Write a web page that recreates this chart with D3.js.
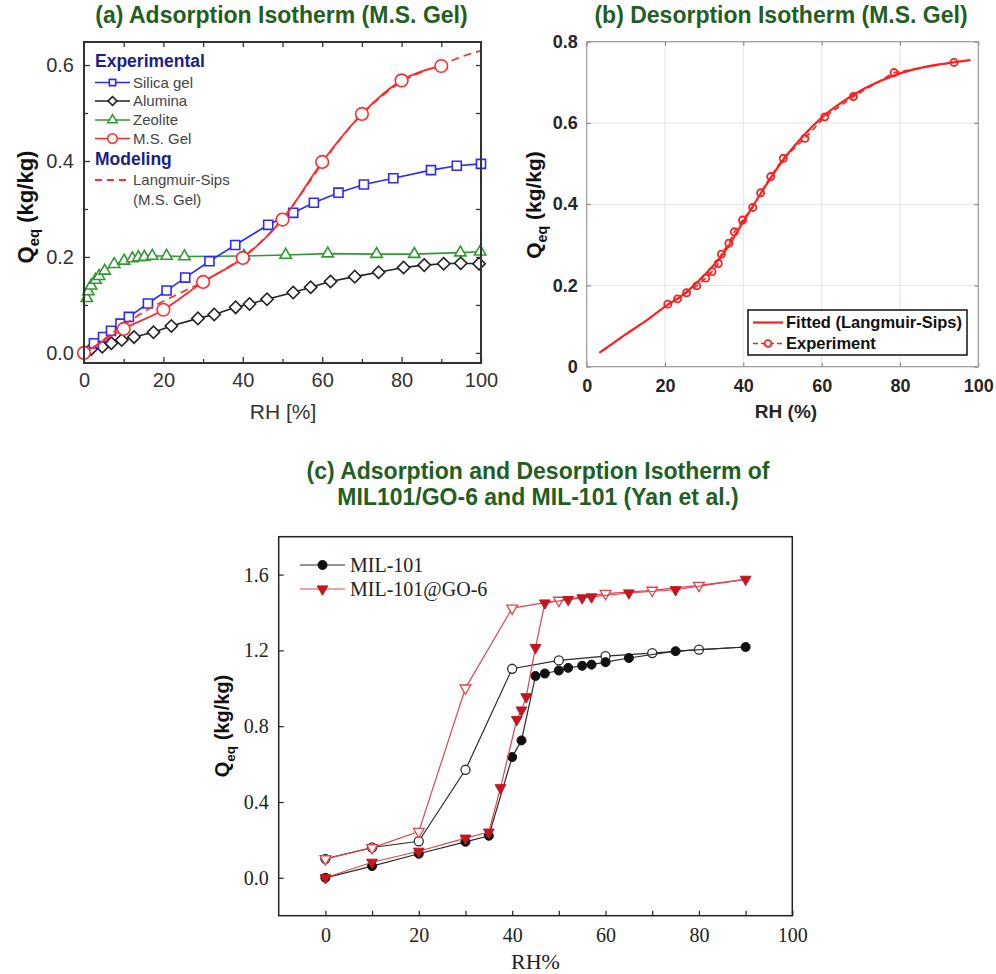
<!DOCTYPE html>
<html>
<head>
<meta charset="utf-8">
<script src="https://cdn.jsdelivr.net/npm/d3@7"></script>
<style>
  body { margin: 0; background: #fff; }
  svg { display: block; }
</style>
</head>
<body>
<svg id="fig" width="996" height="974"></svg>
<script>
// ---------- (a) adsorption isotherms ----------
const silicaRH = [2.5, 4.8, 6.8, 9.2, 11.3, 16.1, 20.8, 25.5, 31.6, 38.1, 46.4, 52.7, 57.9, 64.1, 70.5, 77.9, 87.4, 93.9, 100];
const silicaQ  = [0.020, 0.033, 0.046, 0.061, 0.075, 0.103, 0.130, 0.157, 0.191, 0.225, 0.267, 0.292, 0.313, 0.334, 0.351, 0.364, 0.381, 0.390, 0.394];

const aluminaRH = [1.8, 4.6, 6.9, 9.5, 12.6, 17.5, 22.0, 28.7, 32.8, 38.2, 41.7, 46.1, 52.7, 57.1, 62.1, 68.2, 74.2, 80.5, 85.7, 90.6, 94.9, 99.5];
const aluminaQ  = [0.008, 0.013, 0.020, 0.027, 0.033, 0.043, 0.056, 0.072, 0.080, 0.095, 0.102, 0.112, 0.126, 0.137, 0.149, 0.159, 0.168, 0.178, 0.183, 0.186, 0.187, 0.186];

const zeoliteRH = [0.7, 1.1, 1.8, 2.9, 3.8, 5.2, 7.6, 10.1, 12.2, 13.7, 15.2, 17.2, 20.8, 25.3, 40.3, 50.8, 61.4, 73.7, 83.2, 94.8, 99.8];
const zeoliteQ  = [0.114, 0.128, 0.140, 0.152, 0.160, 0.171, 0.185, 0.192, 0.197, 0.199, 0.200, 0.202, 0.202, 0.201, 0.202, 0.204, 0.207, 0.206, 0.206, 0.209, 0.211];

const msGelRH = [0, 10, 20, 30, 40, 50, 60, 70, 80, 90];
const msGelQ  = [0.000, 0.050, 0.090, 0.148, 0.198, 0.278, 0.398, 0.498, 0.568, 0.598];

const sipsRH = [0, 5, 10, 15, 20, 25, 30, 35, 40, 45, 50, 55, 60, 65, 70, 75, 80, 85, 90, 95, 100];
const sipsQ  = [-0.010, 0.028, 0.058, 0.085, 0.108, 0.128, 0.148, 0.172, 0.200, 0.235, 0.280, 0.335, 0.395, 0.450, 0.497, 0.535, 0.565, 0.585, 0.600, 0.617, 0.630];

const ticksA_RH = [0, 20, 40, 60, 80, 100];
const ticksA_Q  = [0.0, 0.2, 0.4, 0.6];

// ---------- (b) desorption isotherm ----------
const fitRH = [3.2, 5, 10, 15, 20, 25, 30, 35, 40, 45, 50, 55, 60, 65, 70, 75, 80, 85, 90, 95, 98];
const fitQ  = [0.034, 0.046, 0.080, 0.112, 0.148, 0.180, 0.225, 0.280, 0.357, 0.435, 0.507, 0.565, 0.613, 0.650, 0.680, 0.703, 0.722, 0.735, 0.744, 0.751, 0.755];

const expRH = [20.7, 23.2, 25.5, 28.1, 30.4, 32.0, 33.6, 34.4, 36.3, 37.7, 39.8, 42.4, 44.4, 47.0, 50.2, 55.7, 60.8, 68.1, 78.5, 93.8];
const expQ  = [0.154, 0.167, 0.182, 0.199, 0.218, 0.234, 0.254, 0.277, 0.304, 0.332, 0.361, 0.392, 0.428, 0.468, 0.513, 0.562, 0.615, 0.665, 0.724, 0.749];

const ticksB_RH = [0, 20, 40, 60, 80, 100];
const ticksB_Q  = [0, 0.2, 0.4, 0.6, 0.8];

// ---------- (c) MIL-101 and MIL-101@GO-6 ----------
const milAdsRH = [0, 10, 20, 30, 35, 40, 42, 45, 47, 50, 52, 55, 57, 60, 65, 75, 90];
const milAdsQ  = [0.000, 0.062, 0.127, 0.190, 0.222, 0.637, 0.725, 1.065, 1.078, 1.094, 1.108, 1.119, 1.125, 1.138, 1.160, 1.196, 1.218];
const milDesRH = [90, 80, 70, 60, 50, 40, 30, 20, 10, 0];
const milDesQ  = [1.218, 1.204, 1.186, 1.170, 1.147, 1.103, 0.570, 0.193, 0.160, 0.100];

const goAdsRH = [0, 10, 20, 30, 35, 37.5, 41, 42, 43, 45, 47, 52, 55, 57, 65, 75, 90];
const goAdsQ  = [0.000, 0.082, 0.140, 0.209, 0.241, 0.475, 0.835, 0.885, 0.955, 1.215, 1.450, 1.468, 1.477, 1.482, 1.503, 1.520, 1.575];
const goDesRH = [90, 80, 70, 60, 50, 40, 30, 20, 10, 0];
const goDesQ  = [1.575, 1.543, 1.517, 1.500, 1.464, 1.423, 1.001, 0.244, 0.158, 0.100];

const ticksC_RH = [0, 20, 40, 60, 80, 100];
const ticksC_Q  = [0.0, 0.4, 0.8, 1.2, 1.6];

// ---------- shared helpers ----------
const SANS = "'Liberation Sans', Arial, Helvetica, sans-serif";
const SERIF = "'Liberation Serif', 'Times New Roman', serif";
const TITLE_GREEN = "#1f5f22";
const svg = d3.select("#fig");
const zip = (xs, ys) => xs.map((x, i) => ({ x, y: ys[i] }));

function qLabel(x, y, size, weight, family) {
  const t = svg.append("text")
    .attr("transform", `translate(${x},${y}) rotate(-90)`)
    .attr("text-anchor", "middle")
    .attr("font-family", family).attr("font-size", size)
    .attr("font-weight", weight).attr("fill", "#111");
  t.append("tspan").text("Q");
  t.append("tspan").attr("font-size", size * 0.68).attr("dy", size * 0.28).text("eq");
  t.append("tspan").attr("dy", -size * 0.28).text(" (kg/kg)");
}

function styleAxis(g, opts) {
  g.select(".domain").remove();
  g.selectAll(".tick line").attr("stroke", opts.tickColor).attr("stroke-width", opts.tickWidth || 1.2);
  g.selectAll(".tick text")
    .attr("font-family", opts.family).attr("font-size", opts.size)
    .attr("font-weight", opts.weight || "normal").attr("fill", opts.color || "#222");
}

function marker(sel, shape, size, stroke, fill, sw) {
  const types = { square: d3.symbolSquare, circle: d3.symbolCircle, diamond: d3.symbolSquare, triangle: d3.symbolTriangle, down: d3.symbolTriangle };
  const rot = shape === "diamond" ? 45 : shape === "down" ? 180 : 0;
  sel.append("path")
    .attr("d", d3.symbol(types[shape], size)())
    .attr("transform", d => `translate(${d.tx},${d.ty}) rotate(${rot})`)
    .attr("fill", fill).attr("stroke", stroke).attr("stroke-width", sw);
}

function series(x, y, pts, o) {
  const g = svg.append("g");
  const line = d3.line().x(d => x(d.x)).y(d => y(d.y)).curve(o.curve || d3.curveLinear);
  if (o.lineWidth) {
    g.append("path").attr("d", line(pts)).attr("fill", "none")
      .attr("stroke", o.lineColor || o.color).attr("stroke-width", o.lineWidth)
      .attr("stroke-dasharray", o.dash || null);
  }
  if (o.shape) {
    const data = (o.skipFirst ? pts.slice(1) : pts).map(d => ({ tx: x(d.x), ty: y(d.y) }));
    marker(g.selectAll(null).data(data).enter(), o.shape, o.size, o.color, o.fill, o.sw || 1.6);
  }
}

function legendRow(x0, x1, yy, o, label, tx, font) {
  svg.append("line").attr("x1", x0).attr("x2", x1).attr("y1", yy).attr("y2", yy)
    .attr("stroke", o.lineColor || o.color).attr("stroke-width", o.lineWidth || 1.6)
    .attr("stroke-dasharray", o.dash || null);
  if (o.shape) {
    marker(svg.selectAll(null).data([{ tx: (x0 + x1) / 2, ty: yy }]).enter(), o.shape, o.size, o.color, o.fill, o.sw || 1.6);
  }
  svg.append("text").attr("x", tx).attr("y", yy + font.size * 0.36)
    .attr("font-family", font.family).attr("font-size", font.size)
    .attr("font-weight", font.weight || "normal").attr("fill", font.color || "#222")
    .text(label);
}

function title(lines, cx, y0, dy) {
  lines.forEach((s, i) => {
    svg.append("text").attr("x", cx).attr("y", y0 + i * dy).attr("text-anchor", "middle")
      .attr("font-family", SANS).attr("font-size", 23).attr("font-weight", "bold")
      .attr("fill", TITLE_GREEN).text(s);
  });
}

// ================= Panel (a) =================
{
  const L = 84, R = 481, T = 42, B = 363;
  const x = d3.scaleLinear().domain([0, 100]).range([L, R]);
  const y = d3.scaleLinear().domain([-0.021, 0.648]).range([B, T]);
  const ax = { tickColor: "#333", family: SANS, size: 20, color: "#333", tickWidth: 1.3 };
  const minorX = d3.range(10, 100, 20), minorY = [0.1, 0.3, 0.5];

  svg.append("g").attr("transform", `translate(0,${B})`)
    .call(d3.axisBottom(x).tickValues(ticksA_RH).tickSize(-6).tickPadding(10).tickFormat(d3.format("d")))
    .call(g => styleAxis(g, ax));
  svg.append("g").attr("transform", `translate(0,${B})`)
    .call(d3.axisBottom(x).tickValues(minorX).tickSize(-4).tickFormat(""))
    .call(g => styleAxis(g, ax));
  svg.append("g").attr("transform", `translate(0,${T})`)
    .call(d3.axisTop(x).tickValues(d3.range(10, 100, 10)).tickSize(-5).tickFormat(""))
    .call(g => styleAxis(g, ax));
  svg.append("g").attr("transform", `translate(${L},0)`)
    .call(d3.axisLeft(y).tickValues(ticksA_Q).tickSize(-6).tickPadding(10).tickFormat(d3.format(".1f")))
    .call(g => styleAxis(g, ax));
  svg.append("g").attr("transform", `translate(${L},0)`)
    .call(d3.axisLeft(y).tickValues(minorY).tickSize(-4).tickFormat(""))
    .call(g => styleAxis(g, ax));
  svg.append("g").attr("transform", `translate(${R},0)`)
    .call(d3.axisRight(y).tickValues([0, 0.1, 0.2, 0.3, 0.4, 0.5, 0.6]).tickSize(-5).tickFormat(""))
    .call(g => styleAxis(g, ax));

  const blue = "#2a2aff", black = "#222", green = "#2f9a2f", red = "#ff2b2b";
  series(x, y, zip(zeoliteRH, zeoliteQ), { color: green, lineWidth: 1.6, shape: "triangle", size: 56, fill: "#fff" });
  series(x, y, zip(aluminaRH, aluminaQ), { color: black, lineWidth: 1.6, shape: "diamond", size: 76, fill: "#fff" });
  series(x, y, zip(silicaRH, silicaQ), { color: blue, lineWidth: 1.6, shape: "square", size: 82, fill: "#fff" });
  series(x, y, zip(sipsRH, sipsQ), { color: red, lineWidth: 1.6, dash: "8,5", curve: d3.curveMonotoneX });
  series(x, y, zip(msGelRH, msGelQ), { color: red, lineWidth: 1.8, shape: "circle", size: 125, fill: "#fff", curve: d3.curveMonotoneX });

  svg.append("rect").attr("x", L).attr("y", T).attr("width", R - L).attr("height", B - T)
    .attr("fill", "none").attr("stroke", "#333").attr("stroke-width", 2);

  // legend
  const navy = "#1d1d8c";
  const lf = { family: SANS, size: 15, color: "#444" };
  svg.append("text").attr("x", 95).attr("y", 67).attr("font-family", SANS).attr("font-size", 17.5)
    .attr("font-weight", "bold").attr("fill", navy).text("Experimental");
  legendRow(95, 130, 82.5, { color: blue, shape: "square", size: 40, fill: "#fff", lineWidth: 1.6 }, "Silica gel", 133, lf);
  legendRow(95, 130, 101, { color: black, shape: "diamond", size: 40, fill: "#fff", lineWidth: 1.6 }, "Alumina", 133, lf);
  legendRow(95, 130, 120, { color: green, shape: "triangle", size: 38, fill: "#fff", lineWidth: 1.6 }, "Zeolite", 133, lf);
  legendRow(95, 130, 138.5, { color: red, shape: "circle", size: 70, fill: "#fff", lineWidth: 1.6 }, "M.S. Gel", 133, lf);
  svg.append("text").attr("x", 95).attr("y", 165).attr("font-family", SANS).attr("font-size", 17.5)
    .attr("font-weight", "bold").attr("fill", navy).text("Modeling");
  legendRow(95, 130, 180, { color: red, dash: "7,5", lineWidth: 1.8 }, "Langmuir-Sips", 133, lf);
  svg.append("text").attr("x", 133).attr("y", 205).attr("font-family", SANS).attr("font-size", 15)
    .attr("fill", "#444").text("(M.S. Gel)");

  svg.append("text").attr("x", 283).attr("y", 419).attr("text-anchor", "middle")
    .attr("font-family", SANS).attr("font-size", 21).attr("fill", "#333").text("RH [%]");
  qLabel(33, 207, 22, "bold", SANS);
  title(["(a) Adsorption Isotherm (M.S. Gel)"], 281.5, 23, 0);
}

// ================= Panel (b) =================
{
  const L = 586.7, R = 978.3, T = 41.7, B = 366.7;
  const x = d3.scaleLinear().domain([0, 100]).range([L, R]);
  const y = d3.scaleLinear().domain([0, 0.8]).range([B, T]);
  const ax = { tickColor: "#777", family: SANS, size: 18, weight: "bold", color: "#262626", tickWidth: 1 };

  const grid = svg.append("g").attr("stroke", "#e4e4e4").attr("stroke-width", 1);
  grid.selectAll(null).data(ticksB_RH.slice(1, -1)).enter().append("line")
    .attr("x1", d => x(d)).attr("x2", d => x(d)).attr("y1", T).attr("y2", B);
  grid.selectAll(null).data(ticksB_Q.slice(1, -1)).enter().append("line")
    .attr("y1", d => y(d)).attr("y2", d => y(d)).attr("x1", L).attr("x2", R);

  svg.append("g").attr("transform", `translate(0,${B})`)
    .call(d3.axisBottom(x).tickValues(ticksB_RH).tickSize(-4).tickPadding(13).tickFormat(d3.format("d")))
    .call(g => styleAxis(g, ax));
  svg.append("g").attr("transform", `translate(0,${T})`)
    .call(d3.axisTop(x).tickValues(ticksB_RH).tickSize(-4).tickFormat(""))
    .call(g => styleAxis(g, ax));
  svg.append("g").attr("transform", `translate(${L},0)`)
    .call(d3.axisLeft(y).tickValues(ticksB_Q).tickSize(-4).tickPadding(9).tickFormat(d => d === 0 ? "0" : d3.format(".1f")(d)))
    .call(g => styleAxis(g, ax));
  svg.append("g").attr("transform", `translate(${R},0)`)
    .call(d3.axisRight(y).tickValues(ticksB_Q).tickSize(-4).tickFormat(""))
    .call(g => styleAxis(g, ax));

  const red = "#ff1f1f";
  series(x, y, zip(fitRH, fitQ), { color: red, lineWidth: 2.2, curve: d3.curveMonotoneX });
  series(x, y, zip(expRH, expQ), { color: red, lineWidth: 1.6, dash: "6,4", shape: "circle", size: 40, fill: "none", sw: 1.8 });

  svg.append("rect").attr("x", L).attr("y", T).attr("width", R - L).attr("height", B - T)
    .attr("fill", "none").attr("stroke", "#999").attr("stroke-width", 1.2);

  // legend box
  svg.append("rect").attr("x", 748).attr("y", 310).attr("width", 219).attr("height", 45)
    .attr("fill", "#fff").attr("stroke", "#111").attr("stroke-width", 1.5);
  const lf = { family: SANS, size: 16.5, weight: "bold", color: "#111" };
  legendRow(753, 783, 322.5, { color: red, lineWidth: 2.2 }, "Fitted (Langmuir-Sips)", 786, lf);
  legendRow(753, 783, 343.5, { color: red, lineWidth: 1.6, dash: "5,3", shape: "circle", size: 36, fill: "#fff", sw: 1.8 }, "Experiment", 786, lf);

  svg.append("text").attr("x", 786).attr("y", 418).attr("text-anchor", "middle")
    .attr("font-family", SANS).attr("font-size", 19).attr("font-weight", "bold").attr("fill", "#262626").text("RH (%)");
  qLabel(541, 205, 21, "bold", SANS);
  title(["(b) Desorption Isotherm (M.S. Gel)"], 781, 23, 0);
}

// ================= Panel (c) =================
{
  const L = 278.7, R = 792.3, T = 536.7, B = 915.7;
  const x = d3.scaleLinear().domain([-10, 100]).range([L, R]);
  const y = d3.scaleLinear().domain([-0.2, 1.8]).range([B, T]);
  const ax = { tickColor: "#222", family: SERIF, size: 20, color: "#222", tickWidth: 1.2 };

  svg.append("g").attr("transform", `translate(0,${B})`)
    .call(d3.axisBottom(x).tickValues(d3.range(0, 101, 10)).tickSize(-5).tickPadding(12)
      .tickFormat(d => ticksC_RH.includes(d) ? d : ""))
    .call(g => styleAxis(g, ax));
  svg.append("g").attr("transform", `translate(${L},0)`)
    .call(d3.axisLeft(y).tickValues(ticksC_Q).tickSize(-5).tickPadding(10).tickFormat(d3.format(".1f")))
    .call(g => styleAxis(g, ax));

  const black = "#2b2b2b", redLine = "#e0454b", redFill = "#c3161f";
  series(x, y, zip(milDesRH, milDesQ), { color: black, lineWidth: 1.2, shape: "circle", size: 64, fill: "#fff", sw: 1.3, skipFirst: true });
  series(x, y, zip(goDesRH, goDesQ), { color: redLine, lineWidth: 1.2, shape: "down", size: 50, fill: "#fff", sw: 1.3, skipFirst: true });
  series(x, y, zip(milAdsRH, milAdsQ), { color: "#111", lineColor: black, lineWidth: 1.2, shape: "circle", size: 64, fill: "#111", sw: 1 });
  series(x, y, zip(goAdsRH, goAdsQ), { color: redFill, lineColor: redLine, lineWidth: 1.2, shape: "down", size: 50, fill: redFill, sw: 1 });

  svg.append("rect").attr("x", L).attr("y", T).attr("width", R - L).attr("height", B - T)
    .attr("fill", "none").attr("stroke", "#222").attr("stroke-width", 1.5);

  const lf = { family: SERIF, size: 20, color: "#222" };
  legendRow(300, 345, 565, { color: "#111", lineColor: black, lineWidth: 1.2, shape: "circle", size: 64, fill: "#111", sw: 1 }, "MIL-101", 350, lf);
  legendRow(300, 345, 589, { color: redFill, lineColor: redLine, lineWidth: 1.2, shape: "down", size: 50, fill: redFill, sw: 1 }, "MIL-101@GO-6", 350, lf);

  svg.append("text").attr("x", 535.5).attr("y", 969).attr("text-anchor", "middle")
    .attr("font-family", SERIF).attr("font-size", 22).attr("fill", "#222").text("RH%");
  qLabel(229, 726, 20, "bold", SANS);
  title(["(c) Adsorption and Desorption Isotherm of", "MIL101/GO-6 and MIL-101 (Yan et al.)"], 538, 479, 26);
}
</script>
</body>
</html>
